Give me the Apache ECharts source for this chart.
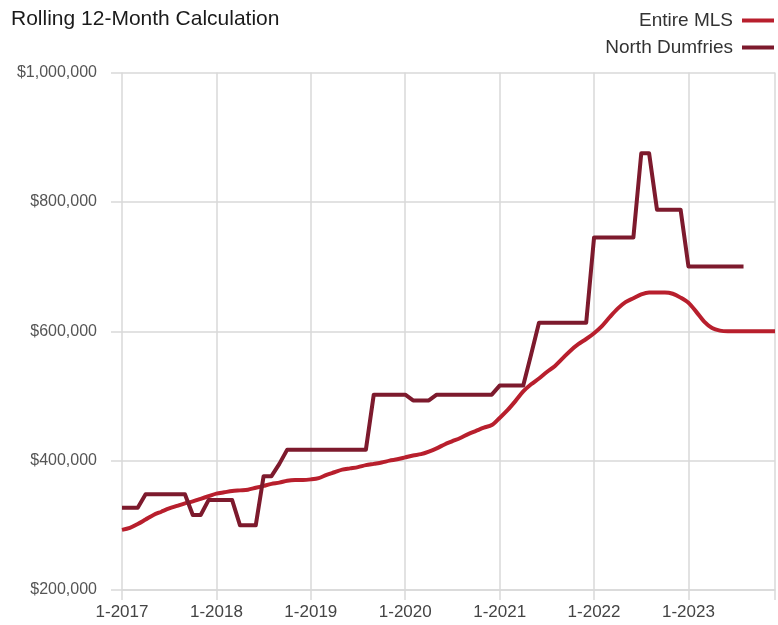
<!DOCTYPE html>
<html>
<head>
<meta charset="utf-8">
<script src="https://cdn.jsdelivr.net/npm/echarts@6/dist/echarts.min.js"></script>
<style>
html,body{margin:0;padding:0;background:#fff;}
#chart{width:778px;height:625px;}
</style>
</head>
<body>
<div id="chart"></div>
<script>
const years = [2017, 2018, 2019, 2020, 2021, 2022, 2023];
const months = [1,2,3,4,5,6,7,8,9,10,11,12];
const categories = [];
years.forEach(y => months.forEach(m => categories.push(m + '-' + y)));

const entireMLS = [
  293, 296, 302, 309, 316, 321, 326, 330, 334, 337, 341, 345,
  349, 351, 353, 354, 355, 358, 361, 364, 366, 369, 370, 370,
  371, 373, 378, 382, 386, 388, 390, 393, 395, 397, 400, 402,
  405, 408, 410, 414, 419, 425, 430, 435, 441, 446, 451, 455,
  466, 478, 492, 507, 518, 527, 537, 546, 558, 570, 580, 588,
  597, 608, 622, 635, 645, 651, 657, 660, 660, 660, 658, 652,
  644, 630, 615, 605, 601, 600, 600, 600, 600, 600, 600, 600
].map(v => v * 1000);

const northDumfries = [
  327, 327, 327, 348, 348, 348, 348, 348, 348, 316, 316, 339,
  339, 339, 339, 300, 300, 300, 376, 376, 395, 417, 417, 417,
  417, 417, 417, 417, 417, 417, 417, 417, 502, 502, 502, 502,
  502, 493, 493, 493, 502, 502, 502, 502, 502, 502, 502, 502,
  516, 516, 516, 516, 564, 613, 613, 613, 613, 613, 613, 613,
  745, 745, 745, 745, 745, 745, 875, 875, 788, 788, 788, 788,
  700, 700, 700, 700, 700, 700, 700, 700, null, null, null, null
].map(v => v === null ? null : v * 1000);

const yTicks = [200000, 400000, 600000, 800000, 1000000];

const font = "'Liberation Sans', Arial, sans-serif";
const gridColor = '#d9d9d9';
const lastIdx = categories.length - 1;
const showAt = (i) => i % 12 === 0 || i === lastIdx;

const chart = echarts.init(document.getElementById('chart'), null, {renderer: 'canvas'});
chart.setOption({
  animation: false,
  backgroundColor: '#ffffff',
  title: {
    text: 'Rolling 12-Month Calculation',
    left: 6, top: 4,
    textStyle: {fontFamily: font, fontSize: 21, fontWeight: 'normal', color: '#1a1a1a'}
  },
  legend: {
    orient: 'vertical',
    right: 4, top: 11,
    padding: 0,
    align: 'right',
    icon: 'rect',
    itemWidth: 32, itemHeight: 4,
    itemGap: 8,
    textStyle: {fontFamily: font, fontSize: 19, color: '#333', padding: [0, 4, 0, 0]},
    data: ['Entire MLS', 'North Dumfries']
  },
  grid: {left: 122, right: 3, top: 72.5, bottom: 35, containLabel: false},
  xAxis: {
    type: 'category',
    data: categories,
    boundaryGap: false,
    axisLine: {show: true, lineStyle: {color: gridColor, width: 1.5}},
    axisTick: {show: true, interval: (i) => showAt(i), length: 10, lineStyle: {color: gridColor, width: 1.5}},
    splitLine: {show: true, interval: (i) => showAt(i), lineStyle: {color: gridColor, width: 1.5}},
    axisLabel: {
      interval: (i) => i % 12 === 0,
      margin: 14,
      fontFamily: font, fontSize: 17, color: '#444'
    }
  },
  yAxis: {
    type: 'value',
    min: yTicks[0], max: yTicks[yTicks.length - 1], interval: 200000,
    axisLine: {show: false},
    axisTick: {show: true, length: 11, lineStyle: {color: gridColor, width: 1.5}},
    splitLine: {show: true, lineStyle: {color: gridColor, width: 1.5}},
    axisLabel: {
      margin: 25,
      fontFamily: font, fontSize: 16, color: '#555',
      formatter: (v) => '$' + v.toLocaleString('en-US')
    }
  },
  series: [
    {
      name: 'Entire MLS', type: 'line', data: entireMLS,
      showSymbol: false, symbol: 'none', smooth: 0.3,
      itemStyle: {color: '#b81f2d'},
      lineStyle: {color: '#b81f2d', width: 4},
      z: 3
    },
    {
      name: 'North Dumfries', type: 'line', data: northDumfries,
      showSymbol: false, symbol: 'none', connectNulls: false,
      itemStyle: {color: '#7d1a2d'},
      lineStyle: {color: '#7d1a2d', width: 4, join: 'round'},
      z: 4
    }
  ]
});
</script>
</body>
</html>
